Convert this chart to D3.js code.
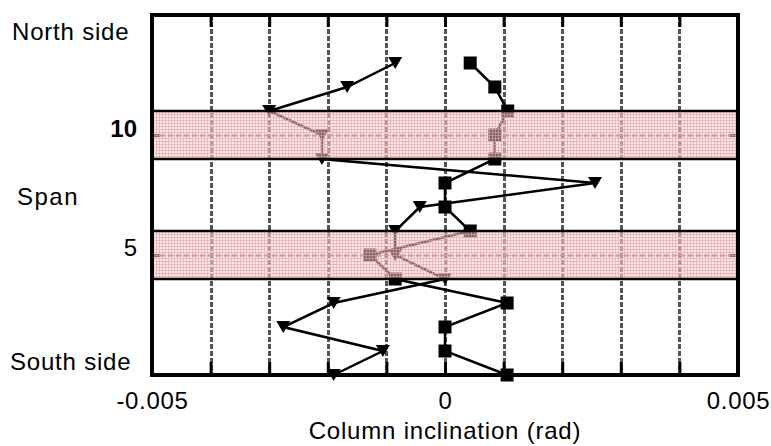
<!DOCTYPE html>
<html>
<head>
<meta charset="utf-8">
<script src="https://cdn.jsdelivr.net/npm/d3@7"></script>
<style>
  html, body { margin: 0; padding: 0; background: #fff; }
  svg { display: block; }
  text { font-family: "Liberation Sans", Arial, sans-serif; fill: #000; }
</style>
</head>
<body>
<svg id="chart" width="771" height="446"></svg>
<script>
// Span positions along the bridge, from north (13) to south (0)
const spanLevels = [13, 12, 11, 10, 9, 8, 7, 6, 5, 4, 3, 2, 1, 0];
// Column inclination (rad), one series drawn with down triangles, one with squares
const triangleSeries = [-0.00085, -0.00167, -0.0030, -0.0021, -0.0021, 0.00256, -0.00043,
                        -0.00085, -0.00085, 0.0, -0.0019, -0.00276, -0.00106, -0.0019];
const squareSeries = [0.00043, 0.00085, 0.00107, 0.00085, 0.00085, 0.0, 0.0,
                      0.00043, -0.00128, -0.00085, 0.00106, 0.0, 0.0, 0.00106];
// Highlighted spans (centre and half width in span units)
const bandCentres = [10, 5];
const bandHalfWidth = 1;
// Axis tick values
const xGridValues = d3.range(-4, 5).map(d => d / 1000);
const xTickLabels = [-0.005, 0, 0.005];
const sideLabels = ["North side", "Span", "South side"];

const svg = d3.select("#chart");
const plotL = 152, plotR = 738, plotT = 15, plotB = 375;

const x = d3.scaleLinear().domain([-0.005, 0.005]).range([plotL, plotR]);
const y = d3.scaleLinear().domain([0, 15]).range([plotB, plotT]);
// Pixel-snapped position for crisp 3px grid strokes
const xs = d => Math.round(x(d)) + 0.5;

// Fine pink mesh used to shade the highlighted spans
const defs = svg.append("defs");
const pat = defs.append("pattern")
  .attr("id", "mesh").attr("patternUnits", "userSpaceOnUse")
  .attr("width", 3).attr("height", 3);
pat.append("rect").attr("width", 3).attr("height", 3).attr("fill", "rgba(246,208,208,0.5)");
pat.append("rect").attr("x", 0).attr("y", 0).attr("width", 1).attr("height", 3).attr("fill", "rgba(230,160,160,0.6)");
pat.append("rect").attr("x", 0).attr("y", 0).attr("width", 3).attr("height", 1).attr("fill", "rgba(230,160,160,0.6)");

// Vertical dashed grid
svg.append("g").selectAll("line").data(xGridValues).join("line")
  .attr("x1", xs).attr("x2", xs)
  .attr("y1", plotT).attr("y2", plotB)
  .attr("stroke", "#555").attr("stroke-width", 3)
  .attr("stroke-dasharray", "5,2");

// Dashed centre lines of the highlighted spans
svg.append("g").selectAll("line").data(bandCentres).join("line")
  .attr("x1", plotL).attr("x2", plotR)
  .attr("y1", d => Math.round(y(d)) + 0.5).attr("y2", d => Math.round(y(d)) + 0.5)
  .attr("stroke", "#555").attr("stroke-width", 2)
  .attr("stroke-dasharray", "5,3");

// Inside ticks on top and bottom edges
svg.append("g").attr("transform", `translate(0,${plotT})`)
  .call(d3.axisBottom(x).tickValues(xGridValues).tickSize(12).tickFormat(""))
  .call(g => g.select(".domain").remove())
  .call(g => g.selectAll("line").attr("stroke", "#000").attr("stroke-width", 3));
svg.append("g").attr("transform", `translate(0,${plotB})`)
  .call(d3.axisTop(x).tickValues(xGridValues).tickSize(13).tickFormat(""))
  .call(g => g.select(".domain").remove())
  .call(g => g.selectAll("line").attr("stroke", "#000").attr("stroke-width", 3));

// Inside ticks on left and right edges at the highlighted span centres
svg.append("g").attr("transform", `translate(${plotL},0)`)
  .call(d3.axisRight(y).tickValues(bandCentres).tickSize(8).tickFormat(""))
  .call(g => g.select(".domain").remove())
  .call(g => g.selectAll("line").attr("stroke", "#000").attr("stroke-width", 3));
svg.append("g").attr("transform", `translate(${plotR},0)`)
  .call(d3.axisLeft(y).tickValues(bandCentres).tickSize(8).tickFormat(""))
  .call(g => g.select(".domain").remove())
  .call(g => g.selectAll("line").attr("stroke", "#000").attr("stroke-width", 3));

// Data lines
const line = d3.line().x(d => x(d[0])).y(d => y(d[1]));
const triPts = triangleSeries.map((v, i) => [v, spanLevels[i]]);
const sqPts = squareSeries.map((v, i) => [v, spanLevels[i]]);

svg.append("path").datum(triPts).attr("d", line)
  .attr("fill", "none").attr("stroke", "#000").attr("stroke-width", 2.5);
svg.append("path").datum(sqPts).attr("d", line)
  .attr("fill", "none").attr("stroke", "#000").attr("stroke-width", 2.5);

// Markers
const sq = 13;
svg.append("g").selectAll("rect").data(sqPts).join("rect")
  .attr("x", d => x(d[0]) - sq / 2).attr("y", d => y(d[1]) - sq / 2)
  .attr("width", sq).attr("height", sq).attr("fill", "#000");
const tw = 14, th = 12;
svg.append("g").selectAll("path").data(triPts).join("path")
  .attr("d", d => {
    const cx = x(d[0]), cy = y(d[1]);
    return `M${cx - tw / 2},${cy - th / 2}L${cx + tw / 2},${cy - th / 2}L${cx},${cy + th / 2}Z`;
  })
  .attr("fill", "#000");

// Highlighted span shading over the data
svg.append("g").selectAll("rect").data(bandCentres).join("rect")
  .attr("x", plotL).attr("width", plotR - plotL)
  .attr("y", d => y(d + bandHalfWidth))
  .attr("height", d => y(d - bandHalfWidth) - y(d + bandHalfWidth))
  .attr("fill", "url(#mesh)");
svg.append("g").selectAll("line")
  .data(bandCentres.flatMap(c => [c - bandHalfWidth, c + bandHalfWidth])).join("line")
  .attr("x1", plotL).attr("x2", plotR)
  .attr("y1", d => y(d)).attr("y2", d => y(d))
  .attr("stroke", "#000").attr("stroke-width", 2.5);

// Plot frame
svg.append("rect")
  .attr("x", plotL).attr("y", plotT).attr("width", plotR - plotL).attr("height", plotB - plotT)
  .attr("fill", "none").attr("stroke", "#000").attr("stroke-width", 4);

// X tick labels (plain hyphen for the minus sign)
svg.append("g").attr("transform", `translate(0,${plotB})`)
  .call(d3.axisBottom(x).tickValues(xTickLabels).tickSize(0).tickPadding(0)
    .tickFormat(d => d === 0 ? "0" : (d < 0 ? "-" : "") + Math.abs(d).toFixed(3)))
  .call(g => g.select(".domain").remove())
  .call(g => g.selectAll("text")
    .attr("dy", null).attr("y", 34)
    .style("font-family", "'Liberation Sans', Arial, sans-serif")
    .style("font-size", "24px").style("letter-spacing", "0.7px").attr("fill", "#000"));

// X axis title
svg.append("text")
  .attr("x", x(0)).attr("y", 439).attr("text-anchor", "middle")
  .style("font-size", "24px").style("letter-spacing", "0.8px")
  .text("Column inclination (rad)");

// Left side labels
svg.append("text").attr("x", 12).attr("y", 40)
  .style("font-size", "24px").style("letter-spacing", "0.8px").text(sideLabels[0]);
svg.append("text").attr("x", 17).attr("y", 205)
  .style("font-size", "24px").style("letter-spacing", "1.5px").text(sideLabels[1]);
svg.append("text").attr("x", 10).attr("y", 370)
  .style("font-size", "24px").style("letter-spacing", "0.8px").text(sideLabels[2]);

// Highlighted span numbers
svg.append("text").attr("x", 137).attr("y", y(bandCentres[0]) + 2).attr("text-anchor", "end")
  .style("font-size", "24px").style("font-weight", "bold").text(bandCentres[0]);
svg.append("text").attr("x", 137).attr("y", y(bandCentres[1]) + 1).attr("text-anchor", "end")
  .style("font-size", "24px").text(bandCentres[1]);
</script>
</body>
</html>
